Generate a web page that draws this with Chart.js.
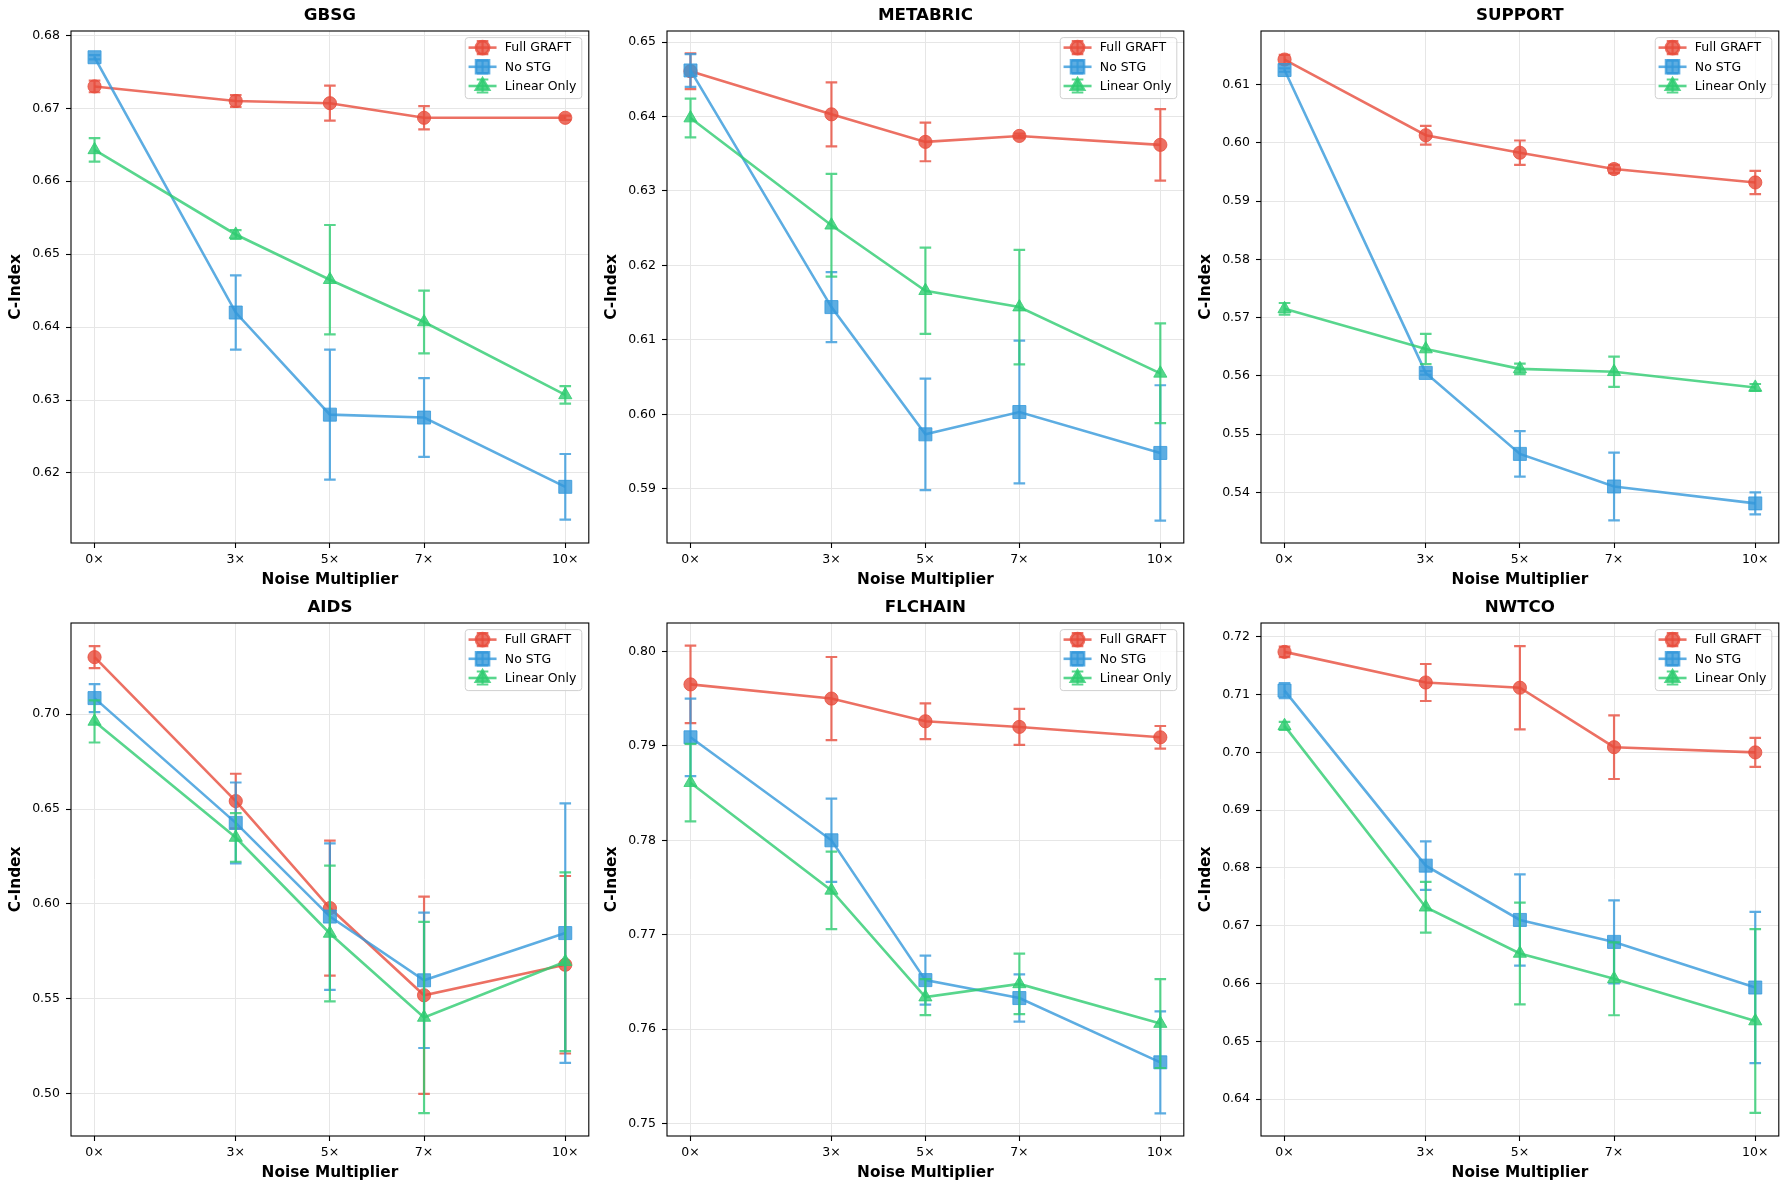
<!DOCTYPE html>
<html>
<head>
<meta charset="utf-8">
<script src="https://cdn.jsdelivr.net/npm/chart.js@4.4.0/dist/chart.umd.min.js"></script>
<style>
  html, body { margin: 0; padding: 0; background: #fff; }
  #wrap { position: relative; width: 1790px; height: 1190px; background: #fff; }
  canvas { position: absolute; }
</style>
</head>
<body>
<div id="wrap"></div>
<script>
// ---- data ---------------------------------------------------------
const noise = [0, 3, 5, 7, 10];
const xTicks = [0, 3, 5, 7, 10];
const methods = ['Full GRAFT', 'No STG', 'Linear Only'];

// rows: Full GRAFT, No STG, Linear Only
const gbsgMean = [
  [0.6730, 0.6710, 0.6707, 0.6687, 0.6687],
  [0.6770, 0.6420, 0.6280, 0.6276, 0.6181],
  [0.6643, 0.6527, 0.6465, 0.6407, 0.6307]
];
const gbsgErr = [
  [0.0008, 0.0008, 0.0024, 0.0016, 0.0003],
  [0.0003, 0.0051, 0.0089, 0.0054, 0.0045],
  [0.0016, 0.0006, 0.0075, 0.0043, 0.0012]
];
const gbsgTicks = [0.62, 0.63, 0.64, 0.65, 0.66, 0.67, 0.68];

const metabricMean = [
  [0.6461, 0.6403, 0.6366, 0.6374, 0.6362],
  [0.6462, 0.6144, 0.5973, 0.6003, 0.5948],
  [0.6398, 0.6254, 0.6166, 0.6144, 0.6055]
];
const metabricErr = [
  [0.0024, 0.0043, 0.0026, 0.0003, 0.0048],
  [0.0022, 0.0047, 0.0075, 0.0096, 0.0091],
  [0.0026, 0.0069, 0.0058, 0.0077, 0.0067]
];
const metabricTicks = [0.59, 0.60, 0.61, 0.62, 0.63, 0.64, 0.65];

const supportMean = [
  [0.6143, 0.6013, 0.5983, 0.5955, 0.5932],
  [0.6125, 0.5605, 0.5466, 0.5410, 0.5381],
  [0.5715, 0.5646, 0.5612, 0.5607, 0.5580]
];
const supportErr = [
  [0.0008, 0.0016, 0.0021, 0.0007, 0.0020],
  [0.0003, 0.0003, 0.0039, 0.0058, 0.0019],
  [0.0010, 0.0026, 0.0009, 0.0026, 0.0006]
];
const supportTicks = [0.54, 0.55, 0.56, 0.57, 0.58, 0.59, 0.60, 0.61];

const aidsMean = [
  [0.7301, 0.6542, 0.5978, 0.5518, 0.5679],
  [0.7085, 0.6427, 0.5933, 0.5597, 0.5846],
  [0.6962, 0.6350, 0.5844, 0.5401, 0.5695]
];
const aidsErr = [
  [0.0058, 0.0144, 0.0356, 0.0520, 0.0468],
  [0.0074, 0.0213, 0.0386, 0.0357, 0.0684],
  [0.0111, 0.0128, 0.0358, 0.0504, 0.0471]
];
const aidsTicks = [0.50, 0.55, 0.60, 0.65, 0.70];

const flchainMean = [
  [0.7965, 0.7950, 0.7926, 0.7920, 0.7909],
  [0.7909, 0.7800, 0.7652, 0.7633, 0.7565],
  [0.7861, 0.7747, 0.7634, 0.7648, 0.7606]
];
const flchainErr = [
  [0.0041, 0.0044, 0.0019, 0.0019, 0.0012],
  [0.0041, 0.0044, 0.0026, 0.0025, 0.0054],
  [0.0041, 0.0041, 0.0019, 0.0032, 0.0047]
];
const flchainTicks = [0.75, 0.76, 0.77, 0.78, 0.79, 0.80];

const nwtcoMean = [
  [0.7174, 0.7121, 0.7112, 0.7009, 0.7000],
  [0.7107, 0.6804, 0.6710, 0.6672, 0.6593],
  [0.7046, 0.6732, 0.6652, 0.6608, 0.6535]
];
const nwtcoErr = [
  [0.0009, 0.0032, 0.0072, 0.0055, 0.0025],
  [0.0013, 0.0042, 0.0079, 0.0072, 0.0131],
  [0.0007, 0.0044, 0.0088, 0.0063, 0.0159]
];
const nwtcoTicks = [0.64, 0.65, 0.66, 0.67, 0.68, 0.69, 0.70, 0.71, 0.72];

const panelNames = ['GBSG', 'METABRIC', 'SUPPORT', 'AIDS', 'FLCHAIN', 'NWTCO'];
const yMin = [0.6104, 0.5827, 0.5313, 0.4776, 0.7487, 0.6336];
const yMax = [0.6806, 0.6515, 0.6192, 0.7481, 0.8030, 0.7224];

// ---- styling ------------------------------------------------------
const FONT = '"DejaVu Sans", "Liberation Sans", sans-serif';
const colors = ['rgba(231,76,60,0.8)', 'rgba(52,152,219,0.8)', 'rgba(46,204,113,0.8)'];
const styles = ['circle', 'rect', 'triangle'];
const radii = [6.6, 9.2, 7.6];
const CAP = 5.8;

const panels = [
  [gbsgMean, gbsgErr, gbsgTicks],
  [metabricMean, metabricErr, metabricTicks],
  [supportMean, supportErr, supportTicks],
  [aidsMean, aidsErr, aidsTicks],
  [flchainMean, flchainErr, flchainTicks],
  [nwtcoMean, nwtcoErr, nwtcoTicks]
];

const cols = [{left: 0, w: 599}, {left: 596, w: 598}, {left: 1190, w: 599}];
const rows = [{top: 0, h: 595}, {top: 592, h: 596}];

function drawErr(ctx, x, yLo, yHi, color) {
  ctx.strokeStyle = color;
  ctx.lineWidth = 2.2;
  ctx.beginPath();
  ctx.moveTo(x, yLo); ctx.lineTo(x, yHi);
  ctx.moveTo(x - CAP, yLo); ctx.lineTo(x + CAP, yLo);
  ctx.moveTo(x - CAP, yHi); ctx.lineTo(x + CAP, yHi);
  ctx.stroke();
}

const panelPlugin = {
  id: 'panel',
  afterDatasetDraw(chart, args, opts) {
    const i = args.index;
    const ctx = chart.ctx;
    const xs = chart.scales.x, ys = chart.scales.y;
    ctx.save();
    noise.forEach((n, k) => {
      const m = opts.mean[i][k], e = opts.err[i][k];
      drawErr(ctx, xs.getPixelForValue(n), ys.getPixelForValue(m - e), ys.getPixelForValue(m + e), colors[i]);
    });
    ctx.restore();
  },
  afterDraw(chart, args, opts) {
    const ctx = chart.ctx;
    const a = chart.chartArea;
    ctx.save();
    // frame
    ctx.strokeStyle = '#000';
    ctx.lineWidth = 1.1;
    ctx.strokeRect(a.left, a.top, a.right - a.left, a.bottom - a.top);
    // title
    ctx.fillStyle = '#000';
    ctx.font = 'bold 16.7px ' + FONT;
    ctx.textAlign = 'center';
    ctx.textBaseline = 'middle';
    ctx.fillText(opts.title, (a.left + a.right) / 2, a.top - 15);
    // legend
    ctx.font = '12.5px ' + FONT;
    let tw = 0;
    methods.forEach(m => { tw = Math.max(tw, ctx.measureText(m).width); });
    const w = 39.6 + tw + 5.5, h = 61;
    const L = a.right - 7 - w, T = a.top + 6.6;
    ctx.beginPath();
    ctx.roundRect(L, T, w, h, 3);
    ctx.fillStyle = 'rgba(255,255,255,0.8)';
    ctx.fill();
    ctx.strokeStyle = '#d0d0d0';
    ctx.lineWidth = 1;
    ctx.stroke();
    methods.forEach((m, i) => {
      const y = T + 10 + i * 19.2;
      const cx = L + 17.3;
      ctx.strokeStyle = colors[i];
      ctx.lineWidth = 2.6;
      ctx.beginPath(); ctx.moveTo(L + 3.3, y); ctx.lineTo(L + 31.3, y); ctx.stroke();
      ctx.fillStyle = colors[i];
      Chart.helpers.drawPoint(ctx, {pointStyle: styles[i], radius: radii[i], borderWidth: 1, rotation: 0}, cx, y);
      drawErr(ctx, cx, y + 6.5, y - 6.5, colors[i]);
      ctx.fillStyle = '#000';
      ctx.textAlign = 'left';
      ctx.textBaseline = 'middle';
      ctx.fillText(m, L + 39.6, y + 0.5);
    });
    ctx.restore();
  }
};

const wrap = document.getElementById('wrap');

panels.forEach((p, idx) => {
  const [mean, err, yTicks] = p;
  const col = cols[idx % 3], row = rows[Math.floor(idx / 3)];
  const canvas = document.createElement('canvas');
  canvas.width = col.w; canvas.height = row.h;
  canvas.style.left = col.left + 'px';
  canvas.style.top = row.top + 'px';
  canvas.style.width = col.w + 'px';
  canvas.style.height = row.h + 'px';
  wrap.appendChild(canvas);

  const datasets = methods.map((m, i) => ({
    label: m,
    data: noise.map((n, k) => ({x: n, y: mean[i][k]})),
    borderColor: colors[i],
    backgroundColor: colors[i],
    pointBackgroundColor: colors[i],
    pointBorderColor: colors[i],
    pointBorderWidth: 1,
    pointStyle: styles[i],
    pointRadius: radii[i],
    borderWidth: 2.6,
    tension: 0,
    fill: false,
    order: methods.length - 1 - i
  }));

  new Chart(canvas, {
    type: 'line',
    data: {datasets},
    plugins: [panelPlugin],
    options: {
      responsive: false,
      devicePixelRatio: 1,
      animation: false,
      events: [],
      layout: {padding: {top: 31, right: 8, left: 0, bottom: 0}},
      plugins: {
        legend: {display: false},
        tooltip: {enabled: false},
        panel: {title: panelNames[idx], mean, err}
      },
      scales: {
        x: {
          type: 'linear',
          min: -0.5, max: 10.5,
          afterBuildTicks: s => { s.ticks = xTicks.map(v => ({value: v})); },
          afterFit: s => { s.height = 52; },
          ticks: {
            callback: v => v + '×',
            font: {family: FONT, size: 12.5},
            color: '#000', padding: 4.5, maxRotation: 0, autoSkip: false
          },
          grid: {color: '#e6e6e6', lineWidth: 1, tickLength: 5, tickColor: '#000', tickWidth: 1.1},
          border: {display: false},
          title: {
            display: true, text: 'Noise Multiplier', color: '#000',
            font: {family: FONT, size: 15.3, weight: 'bold'},
            padding: {top: 0, bottom: 5.8}
          }
        },
        y: {
          type: 'linear',
          min: yMin[idx], max: yMax[idx],
          afterBuildTicks: s => { s.ticks = yTicks.map(v => ({value: v})); },
          afterFit: s => { s.width = 71; },
          ticks: {
            callback: v => v.toFixed(2),
            font: {family: FONT, size: 12.5},
            color: '#000', padding: 6
          },
          grid: {color: '#e6e6e6', lineWidth: 1, tickLength: 5, tickColor: '#000', tickWidth: 1.1},
          border: {display: false},
          title: {
            display: true, text: 'C-Index', color: '#000',
            font: {family: FONT, size: 15.3, weight: 'bold'},
            padding: {top: 7.3, bottom: 0}
          }
        }
      }
    }
  });
});
</script>
</body>
</html>
